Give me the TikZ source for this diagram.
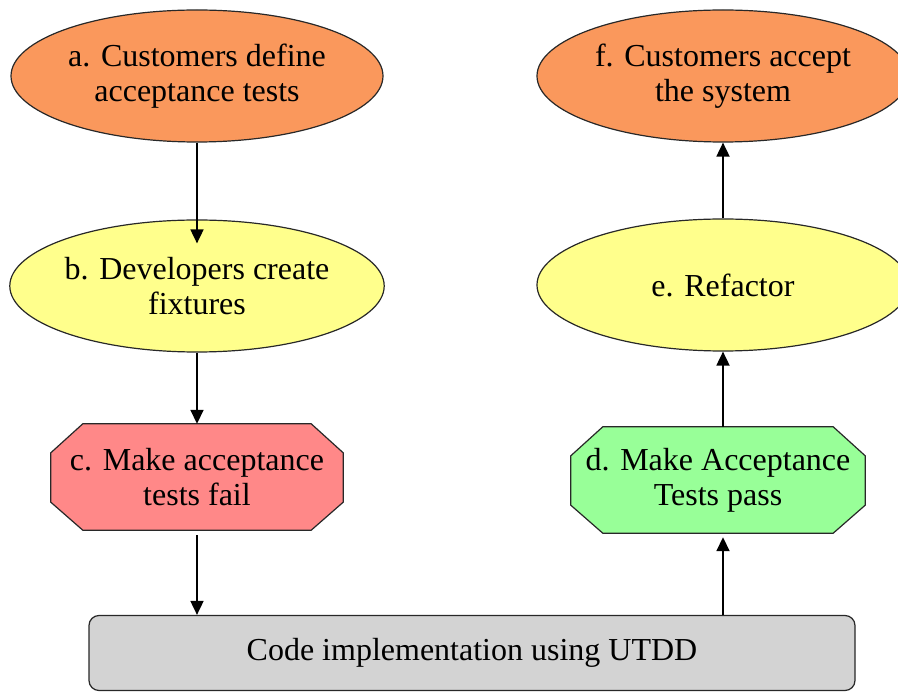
\documentclass[tikz,border=0pt]{standalone}
\usepackage{fontspec}
\setmainfont{Liberation Serif}
\usetikzlibrary{shapes.geometric,arrows.meta,backgrounds}

\definecolor{stepOrange}{RGB}{250,152,92}
\definecolor{stepYellow}{RGB}{255,255,140}
\definecolor{stepPink}{RGB}{255,136,136}
\definecolor{stepGreen}{RGB}{152,255,152}
\definecolor{stepGray}{RGB}{211,211,211}
\definecolor{edgeDark}{RGB}{40,40,40}

\tikzset{
  stagetext/.style={align=center, inner sep=0pt, font=\fontsize{32}{35}\selectfont},
  stage/.style={stagetext, draw=edgeDark, line width=1.2pt},
  oval/.style={stage, ellipse, minimum width=372pt, minimum height=132pt},
  octa/.style={stagetext, rectangle},
  octaline/.style={draw=edgeDark, line width=1.2pt},
  bar/.style={stage, rounded corners=10pt, minimum width=766pt, minimum height=75pt},
  arr/.style={line width=1.8pt, -{Triangle[width=13pt,length=14pt]}},
}

\begin{document}
\begin{tikzpicture}[x=1pt,y=-1pt]
  \useasboundingbox (0,0) rectangle (898,692);
  \clip (0,0) rectangle (898,692);

  % left column: going down
  \node[oval, fill=stepOrange] (a) at (197,76) {a. Customers define\\acceptance tests};
  \node[oval, fill=stepYellow] (b) at (197,286) {b. Developers create\\fixtures};
  \node[octa, minimum width=292pt, minimum height=106pt] (c) at (197,477)
    {c. Make acceptance\\tests fail};

  % bottom bar
  \node[bar, fill=stepGray] (code) at (472,653) {Code implementation using UTDD};

  % right column: going up
  \node[octa, minimum width=294pt, minimum height=106pt] (d) at (718,480)
    {d. Make Acceptance\\Tests pass};
  \node[oval, fill=stepYellow] (e) at (723,285) {e. Refactor};
  \node[oval, fill=stepOrange] (f) at (723,76) {f. Customers accept\\the system};

  % octagon outlines behind the text of c and d
  \begin{scope}[on background layer]
    \fill[white] (0,0) rectangle (898,692);
    \foreach \n/\col in {c/stepPink, d/stepGreen}{
      \filldraw[octaline, fill=\col]
        ([xshift=32pt]\n.north west) -- ([xshift=-32pt]\n.north east)
        -- ([yshift=-29pt]\n.north east) -- ([yshift=28pt]\n.south east)
        -- ([xshift=-32pt]\n.south east) -- ([xshift=32pt]\n.south west)
        -- ([yshift=28pt]\n.south west) -- ([yshift=-29pt]\n.north west) -- cycle;
    }
  \end{scope}

  % connectors
  \draw[arr] (a.south) -- ([yshift=-24pt]b.north);
  \draw[arr] (b.south) -- (b.south |- c.north);
  \draw[arr, shorten <=5pt] (c.south) -- (c.south |- code.north);
  \draw[arr, shorten >=4pt] (code.north -| e.south) -- (d.south -| e.south);
  \draw[arr] (d.north -| e.south) -- (e.south);
  \draw[arr] (e.north) -- (f.south);
\end{tikzpicture}
\end{document}
